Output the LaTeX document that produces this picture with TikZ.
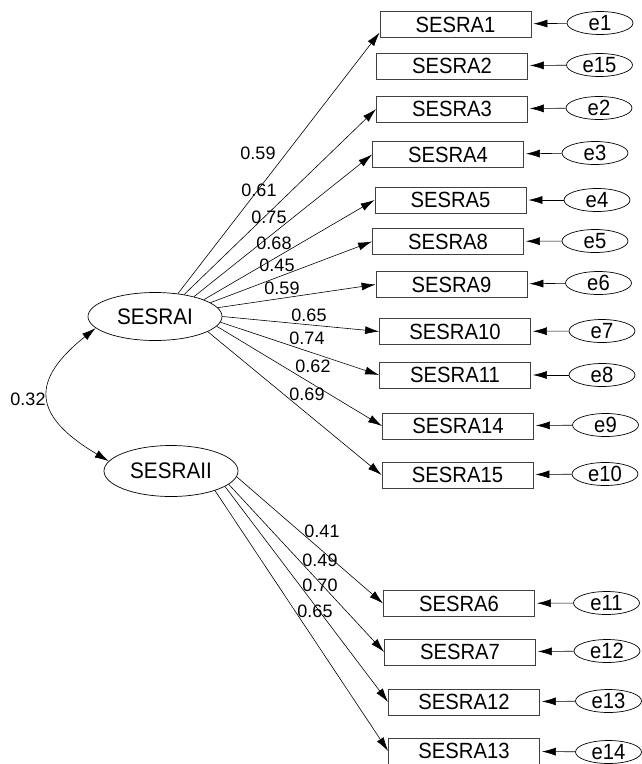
\documentclass[tikz,border=0pt]{standalone}
\usepackage{fontspec}
\setmainfont{Liberation Sans}
\newfontfamily\tallfont[FakeStretch=0.92]{Liberation Sans}
\usetikzlibrary{arrows.meta,shapes.geometric}
\begin{document}
\begin{tikzpicture}[x=1pt,y=-1pt,
  obs/.style={draw=black!75, line width=0.8pt, minimum width=151pt, minimum height=26pt, inner sep=0pt, font=\tallfont\fontsize{22}{24}\selectfont},
  err/.style={draw=black, line width=0.7pt, ellipse, minimum width=66pt, minimum height=23pt, inner sep=0pt, font=\tallfont\fontsize{22}{24}\selectfont},
  lat/.style={draw, ellipse, line width=0.7pt, minimum width=134pt, minimum height=48pt, inner sep=0pt, font=\tallfont\fontsize{22.5}{24}\selectfont},
  coef/.style={font=\fontsize{18}{20}\selectfont, inner sep=0pt},
  ldarr/.style={line width=0.6pt, -{Latex[length=14pt,width=8pt]}},
  earr/.style={line width=0.6pt, -{Latex[length=14pt,width=8pt]}, shorten >=2pt},
]
\useasboundingbox (0,0) rectangle (641,764);

% latent variables
\node[lat] (I) at (155,316.5) {SESRAI};
\node[lat, minimum height=51pt] (II) at (171,471) {SESRAII};

% observed variables
\node[obs] (b1) at (455.5,24.5) {SESRA1};
\node[obs] (b2) at (452,66) {SESRA2};
\node[obs] (b3) at (452,109) {SESRA3};
\node[obs] (b4) at (448,154.5) {SESRA4};
\node[obs] (b5) at (450.5,200) {SESRA5};
\node[obs] (b8) at (448,241.5) {SESRA8};
\node[obs] (b9) at (451.5,284.5) {SESRA9};
\node[obs] (b10) at (455,331.5) {SESRA10};
\node[obs] (b11) at (455,375) {SESRA11};
\node[obs] (b14) at (458,426) {SESRA14};
\node[obs] (b15) at (457.5,475) {SESRA15};
\node[obs] (b6) at (459,603.5) {SESRA6};
\node[obs] (b7) at (460,652) {SESRA7};
\node[obs] (b12) at (464,702) {SESRA12};
\node[obs] (b13) at (464,751) {SESRA13};

% error terms
\node[err] (e1) at (600,23) {e1};
\node[err] (e15) at (599.5,65) {e15};
\node[err] (e2) at (599,108) {e2};
\node[err] (e3) at (595,153) {e3};
\node[err] (e4) at (597,200) {e4};
\node[err] (e5) at (595,241) {e5};
\node[err] (e6) at (598.5,283) {e6};
\node[err] (e7) at (602,331) {e7};
\node[err] (e8) at (602,375) {e8};
\node[err] (e9) at (605.5,425) {e9};
\node[err] (e10) at (605,474) {e10};
\node[err] (e11) at (606.5,603) {e11};
\node[err] (e12) at (607,651) {e12};
\node[err] (e13) at (608.5,701) {e13};
\node[err] (e14) at (608.5,752) {e14};

\draw[earr] (e1) -- (b1);
\draw[earr] (e15) -- (b2);
\draw[earr] (e2) -- (b3);
\draw[earr] (e3) -- (b4);
\draw[earr] (e4) -- (b5);
\draw[earr] (e5) -- (b8);
\draw[earr] (e6) -- (b9);
\draw[earr] (e7) -- (b10);
\draw[earr] (e8) -- (b11);
\draw[earr] (e9) -- (b14);
\draw[earr] (e10) -- (b15);
\draw[earr] (e11) -- (b6);
\draw[earr] (e12) -- (b7);
\draw[earr] (e13) -- (b12);
\draw[earr] (e14) -- (b13);

% loadings from SESRAI
\draw[ldarr] (I.45.6) -- ([yshift=-8pt]b1.west);
\draw[ldarr] (I.37) -- (b3.west);
\draw[ldarr] (I.27.7) -- (b4.west);
\draw[ldarr] (I.19.2) -- (b5.west);
\draw[ldarr] (I.14) -- (b8.west);
\draw[ldarr] (I.8.4) -- (b9.west);
\draw[ldarr] (I.0) -- (b10.west);
\draw[ldarr] (I.-5.6) -- (b11.west);
\draw[ldarr] (I.-9.3) -- (b14.west);
\draw[ldarr] (I.-16.4) -- (b15.west);

% loadings from SESRAII
\draw[ldarr] (II.-5) -- (b6.west);
\draw[ldarr] (II.-13) -- (b7.west);
\draw[ldarr] (II.-16) -- (b12.west);
\draw[ldarr] (II.-24) -- (b13.west);

% covariance
\draw[line width=0.6pt, {Latex[length=14pt,width=8pt]}-{Latex[length=14pt,width=8pt]}]
  (I.191.4) .. controls (31,380) and (31,415) .. (II.171.6);

% coefficients
\node[coef] (c1) at (258,153) {0.59};
\node[coef] (c3) at (259,190) {0.61};
\node[coef] (c4) at (269,217) {0.75};
\node[coef] (c5) at (274,243) {0.68};
\node[coef] (c8) at (277,265) {0.45};
\node[coef] (c9) at (282,288) {0.59};
\node[coef] (c10) at (309,315) {0.65};
\node[coef] (c11) at (307,338) {0.74};
\node[coef] (c14) at (313,366) {0.62};
\node[coef] (c15) at (307,394) {0.69};
\node[coef] (cov) at (28,399) {0.32};
\node[coef] (c6) at (322,531) {0.41};
\node[coef] (c7) at (320,560) {0.49};
\node[coef] (c12) at (320,585) {0.70};
\node[coef] (c13) at (315,611) {0.65};
\end{tikzpicture}
\end{document}
